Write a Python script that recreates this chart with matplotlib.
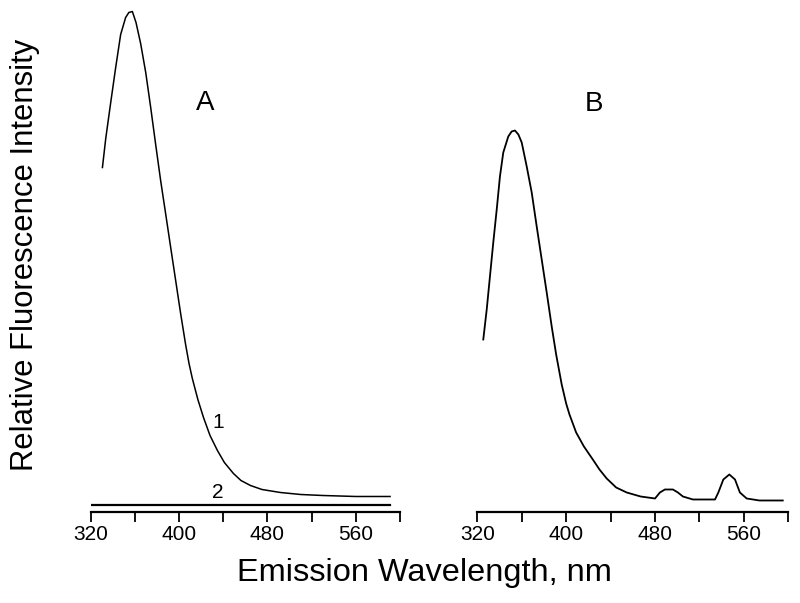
import numpy as np
import matplotlib
matplotlib.use("Agg")
import matplotlib.pyplot as plt

plt.rcParams['font.family'] = ['Liberation Sans', 'DejaVu Sans']

# Panel A, curve 1 (wavelength nm, relative intensity)
a1_wl = [330.6, 333.6, 338.1, 342.6, 347.1, 351.6, 354.5, 357.7, 361.0, 365.2,
         369.8, 374.3, 378.8, 383.3, 387.8, 392.4, 396.9, 401.4, 405.9, 409.0,
         412.0, 417.0, 422.1, 428.0, 434.7, 441.0, 449.2, 456.0, 464.6, 475.0,
         491.7, 510.0, 530.0, 560.0, 591.0]
a1_int = [345, 374, 410, 445, 478, 495, 500, 501, 490, 469,
          440, 405, 368, 332, 299, 265, 232, 199, 168, 149,
          134, 113, 95, 77, 62, 50, 39, 32, 27, 23,
          20, 18, 17, 16, 16]

# Panel A, curve 2 (flat)
a2_wl = [321, 591]
a2_int = [7, 7]

# Panel B
b_wl = [325.4, 328.5, 331.4, 334.4, 337.5, 340.4, 343.4, 347.9, 350.9, 353.9,
        357.0, 360.0, 364.5, 369.0, 373.5, 378.0, 382.5, 387.0, 391.0, 396.0,
        400.0, 403.0, 409.0, 416.0, 424.0, 430.0, 436.5, 445.0, 454.5, 467.0,
        480.0, 484.4, 488.9, 496.1, 500.6, 505.1, 514.1, 534.0, 537.0, 541.5,
        546.9, 552.0, 556.4, 562.5, 574.0, 595.0]
b_int = [173, 203, 236, 270, 303, 336, 360, 376, 381, 382,
         378, 370, 346, 320, 286, 253, 220, 186, 158, 128,
         109, 98, 80, 66, 53, 43, 34, 25, 20, 16,
         14, 20, 23, 23, 20, 16, 13, 13, 20, 33,
         38, 33, 20, 14, 12, 12]

ticks = [320, 360, 400, 440, 480, 520, 560, 600]
tick_labels = ['320', '', '400', '', '480', '', '560', '']

fig = plt.figure(figsize=(8, 6.03), dpi=100)
bottom, height = 0.1501, 0.8416
axA = fig.add_axes([0.1134, bottom, 0.3866, height])
axB = fig.add_axes([0.5966, bottom, 0.3888, height])

axA.plot(a1_wl, a1_int, color='black', linewidth=1.1)
axA.plot(a2_wl, a2_int, color='black', linewidth=1.6)
axB.plot(b_wl, b_int, color='black', linewidth=1.3)

for ax in (axA, axB):
    ax.set_xlim(320, 600)
    ax.set_ylim(0, 507.5)
    for s in ('left', 'right', 'top'):
        ax.spines[s].set_visible(False)
    ax.spines['bottom'].set_linewidth(1.6)
    ax.set_yticks([])
    ax.set_xticks(ticks)
    ax.set_xticklabels(tick_labels)
    ax.tick_params(axis='x', direction='out', length=7, width=1.3,
                   labelsize=15, pad=2)
    ax.patch.set_alpha(0)

axA.text(435, 90, '1', fontsize=15, ha='center', va='center')
axA.text(435, 20, '2', fontsize=15, ha='center', va='center')

fig.text(0.256, 0.829, 'A', fontsize=20, ha='center', va='center')
fig.text(0.7425, 0.8275, 'B', fontsize=20, ha='center', va='center')

fig.text(0.53, 0.05, 'Emission Wavelength, nm', fontsize=23.4,
         ha='center', va='center')
fig.text(0.031, 0.577, 'Relative Fluorescence Intensity', fontsize=22.3,
         ha='center', va='center', rotation=90)

fig.savefig('out.png', dpi=100)
